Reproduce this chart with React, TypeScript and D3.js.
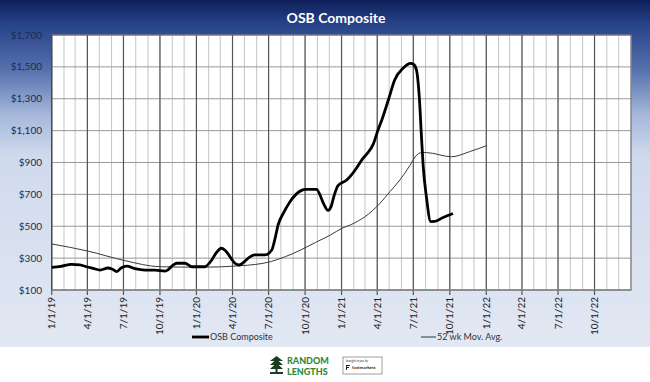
import React from "react";
import * as d3 from "d3";

const osbDates = ["2019-01-01","2019-01-24","2019-02-20","2019-03-13","2019-03-30","2019-04-15","2019-05-03","2019-05-23","2019-06-02","2019-06-14","2019-06-25","2019-07-09","2019-07-30","2019-08-24","2019-09-18","2019-10-14","2019-10-22","2019-10-31","2019-11-12","2019-12-03","2019-12-20","2020-01-22","2020-02-09","2020-02-19","2020-03-04","2020-03-15","2020-03-28","2020-04-07","2020-04-18","2020-05-02","2020-05-15","2020-05-27","2020-06-22","2020-07-09","2020-07-17","2020-07-25","2020-08-09","2020-08-24","2020-09-08","2020-09-22","2020-10-01","2020-10-30","2020-11-07","2020-11-17","2020-11-28","2020-12-05","2020-12-13","2020-12-23","2021-01-14","2021-01-26","2021-02-09","2021-02-24","2021-03-08","2021-03-22","2021-04-03","2021-04-13","2021-04-29","2021-05-15","2021-06-05","2021-06-24","2021-07-02","2021-07-09","2021-07-16","2021-07-22","2021-07-26","2021-08-03","2021-08-14","2021-08-24","2021-09-14","2021-10-09"];
const osbValues = [242,248,261,258,246,236,225,238,232,215,238,250,234,225,225,219,228,250,268,268,246,246,290,330,362,345,300,268,257,280,308,320,320,351,420,508,590,654,700,725,732,732,700,640,600,620,690,755,790,822,870,926,960,1015,1104,1170,1292,1418,1491,1522,1515,1480,1313,1041,874,685,529,530,555,580];

const avgDates = ["2019-01-01","2019-04-01","2019-07-05","2019-10-01","2020-01-13","2020-04-20","2020-07-06","2020-08-13","2020-09-20","2020-10-27","2020-12-04","2021-01-02","2021-01-23","2021-03-01","2021-04-08","2021-05-03","2021-05-28","2021-06-22","2021-07-07","2021-07-22","2021-08-03","2021-10-05","2021-11-20","2022-01-01"];
const avgValues = [389,345,284,246,243,252,278,310,351,398,445,487,508,560,644,717,790,880,940,962,962,936,968,1005];

const yTicks = [100,300,500,700,900,1100,1300,1500,1700];
const title = "OSB Composite";
const legendLabels = ["OSB Composite", "52 wk Mov. Avg."];

const W = 650, H = 382;
const FONT = "Lato, 'Open Sans', sans-serif";

export default function App() {
  const parse = d3.timeParse("%Y-%m-%d");
  const x = d3.scaleTime().domain([new Date(2019,0,1), new Date(2023,0,1)]).range([51.7, 631]);
  const y = d3.scaleLinear().domain([100,1700]).range([290, 35]);
  const osb = osbDates.map((d,i) => ({ d: parse(d) as Date, v: osbValues[i] }));
  const avg = avgDates.map((d,i) => ({ d: parse(d) as Date, v: avgValues[i] }));
  const line = d3.line<{d: Date, v: number}>().x(p => x(p.d)).y(p => y(p.v)).curve(d3.curveMonotoneX);
  const months = d3.timeMonth.range(new Date(2019,0,1), new Date(2023,0,2));
  const quarters = d3.timeMonth.every(3)!.range(new Date(2019,0,1), new Date(2022,11,31));
  const fmt = d3.timeFormat("%-m/%-d/%y");
  const [x0, x1] = x.range();
  const [yb, yt] = y.range();

  return (
    <div style={{ position: "absolute", left: 0, top: 0 }}>
      <svg width={W} height={H} style={{ display: "block" }}>
        <defs>
          <linearGradient id="bg" x1="0" y1="0" x2="0" y2="1">
            <stop offset="0" stopColor="#0e1f5a" />
            <stop offset="0.07" stopColor="#274389" />
            <stop offset="0.2" stopColor="#5470ac" />
            <stop offset="0.33" stopColor="#a5b7da" />
            <stop offset="0.45" stopColor="#d0daed" />
            <stop offset="1" stopColor="#e2e8f3" />
          </linearGradient>
        </defs>
        <rect x={0} y={0} width={W} height={H} fill="#ffffff" />
        <rect x={0} y={0} width={W} height={347} fill="url(#bg)" />
        <text x={336} y={23} textAnchor="middle" fill="#ffffff" fontFamily={FONT} fontWeight="bold" fontSize={14}>{title}</text>
        <rect x={x0} y={yt} width={x1 - x0} height={yb - yt} fill="#ffffff" />
        {months.map((m, i) => (
          <line key={"m"+i} x1={x(m)} x2={x(m)} y1={yt} y2={yb} stroke="#c4c4c4" strokeWidth={1} />
        ))}
        {yTicks.map(t => (
          <line key={"h"+t} x1={x0} x2={x1} y1={y(t)} y2={y(t)} stroke="#9a9a9a" strokeWidth={1} />
        ))}
        {quarters.map((q, i) => (
          <line key={"q"+i} x1={x(q)} x2={x(q)} y1={yt} y2={yb + 5} stroke="#555555" strokeWidth={1.2} />
        ))}
        <rect x={x0} y={yt} width={x1 - x0} height={yb - yt} fill="none" stroke="#666" strokeWidth={1} />
        <line x1={x0} x2={x0} y1={yt} y2={yb} stroke="#444" strokeWidth={1} />
        <line x1={x0} x2={x1} y1={yb} y2={yb} stroke="#888" strokeWidth={1} />
        {yTicks.map(t => (
          <text key={"yl"+t} x={42} y={y(t) + 3.5} textAnchor="end" fill="#1d2b52" fontFamily={FONT} fontSize={10}>
            {d3.format("$,")(t)}
          </text>
        ))}
        {quarters.map((q, i) => (
          <text key={"xl"+i} transform={`translate(${x(q) + 3.5},${yb + 7}) rotate(-90)`} textAnchor="end" fill="#222" fontFamily={FONT} fontSize={10}>
            {fmt(q)}
          </text>
        ))}
        <path d={line(avg) || ""} fill="none" stroke="#3a3a3a" strokeWidth={1} />
        <path d={line(osb) || ""} fill="none" stroke="#000" strokeWidth={2.8} strokeLinejoin="round" />
        <line x1={192} x2={209} y1={337} y2={337} stroke="#000" strokeWidth={2.8} />
        <text x={210} y={340} fill="#333" fontFamily={FONT} fontSize={9}>{legendLabels[0]}</text>
        <line x1={421} x2={436} y1={337} y2={337} stroke="#333" strokeWidth={1} />
        <text x={437} y={340} fill="#333" fontFamily={FONT} fontSize={9}>{legendLabels[1]}</text>
        <g>
          <path d="M276.5,356 L270,361 L283,361 Z M276.5,359 L270,365 L283,365 Z M276.5,363 L270,369 L283,369 Z" fill="#1b3d22" />
          <rect x={275.5} y={369} width={2} height={4} fill="#1b3d22" />
          <rect x={270} y={372} width={13} height={2} fill="#1b3d22" />
          <text x={287} y={364} fill="#2f8a3c" fontFamily={FONT} fontWeight="900" fontSize={9}>RANDOM</text>
          <text x={287} y={375} fill="#2f8a3c" fontFamily={FONT} fontWeight="900" fontSize={9}>LENGTHS</text>
          <rect x={343} y={357} width={39} height={17} fill="#fff" stroke="#888" strokeWidth={0.8} />
          <text x={346} y={361.5} fill="#333" fontFamily={FONT} fontSize={2.8}>brought to you by</text>
          <path d="M346,365 h4 v1 h-3 v1 h2 v1 h-2 v2 h-1 Z" fill="#222" />
          <text x={352} y={368.5} fill="#222" fontFamily={FONT} fontWeight="bold" fontSize={4.5}>fastmarkets</text>
        </g>
      </svg>
    </div>
  );
}
